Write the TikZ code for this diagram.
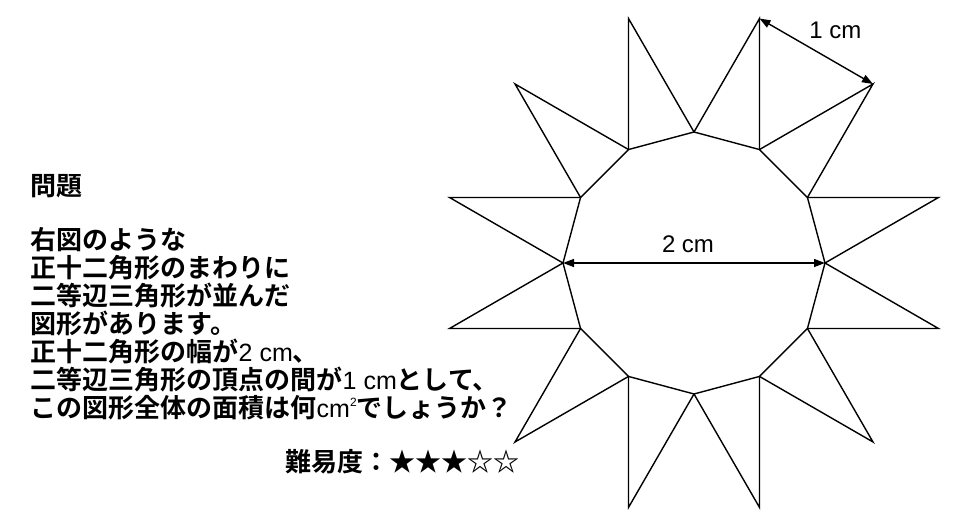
\documentclass[tikz,border=0pt]{standalone}
\usepackage{fontspec}
\setmainfont{Liberation Sans}
\newfontfamily\jp{Noto Sans CJK JP}[BoldFont=* Bold]
\newfontfamily\latin{Liberation Sans}
\newcommand{\en}[1]{{\latin\mdseries\fontsize{25}{28}\selectfont #1}}
\newcommand{\sqr}{\raisebox{0.42em}{\fontsize{12}{12}\selectfont 2}}
\usetikzlibrary{arrows.meta}
\tikzset{
  qline/.style={anchor=base west, inner sep=0pt, font=\jp\bfseries\fontsize{26}{28}\selectfont},
  dim/.style={<->, >={Triangle[length=11pt,width=8pt]}, line width=1.4pt},
}
\begin{document}
\begin{tikzpicture}[x=1pt,y=1pt,line width=1.4pt]
	\useasboundingbox (0,0) rectangle (954,524);
	
	% star of twelve spikes
	\coordinate (c) at (694,261);
	\foreach \i in {0,...,11}{
		\coordinate (p\i) at ([shift={(30*\i:131)}]c);
		\coordinate (t\i) at ([shift={(30*\i+15:253.1)}]c);
	}
	\draw (p0) \foreach \i in {1,...,11}{-- (p\i)} -- cycle;
	\foreach \i [evaluate=\i as \j using {int(mod(\i+1,12))}] in {0,...,11}
		\draw (p\i) -- (t\i) -- (p\j);
	
	\draw[dim] (p6) --node[midway,above,xshift=-6pt,yshift=6pt,font=\fontsize{24}{28}\selectfont]{2 cm} (p0);
	\draw[dim] (t2) --node[midway,anchor=south west,xshift=-11pt,yshift=9pt,font=\fontsize{24}{28}\selectfont]{1 cm} (t1);
	
	% text
	\node[qline] (title) at (30,328.5) {問題};
	\node[qline] (l1) at (30,274.5) {右図のような};
	\node[qline] (l2) at (30,246.5) {正十二角形のまわりに};
	\node[qline] (l3) at (30,218.5) {二等辺三角形が並んだ};
	\node[qline] (l4) at (30,190.5) {図形があります。};
	\node[qline] (l5) at (30,162.5) {正十二角形の幅が\en{2 cm}、};
	\node[qline] (l6) at (30,134.5) {二等辺三角形の頂点の間が\en{1 cm}として、};
	\node[qline] (l7) at (30,106.5) {この図形全体の面積は何\en{cm\sqr}でしょうか？};
	\node[qline] (level) at (285,52.5) {難易度：★★★☆☆};
\end{tikzpicture}
\end{document}
